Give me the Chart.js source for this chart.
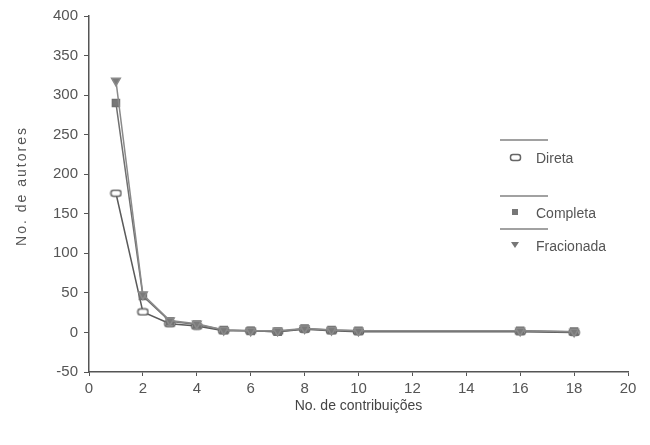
<!DOCTYPE html>
<html>
<head>
<meta charset="utf-8">
<script src="https://cdn.jsdelivr.net/npm/chart.js@4.4.1/dist/chart.umd.min.js"></script>
<style>
  body { margin: 0; background: #fff; }
  #wrap { width: 650px; height: 445px; position: relative; }
</style>
</head>
<body>
<div id="wrap"><canvas id="grafico"></canvas></div>
<script>
// dados
const contribuicoes = [1, 2, 3, 4, 5, 6, 7, 8, 9, 10, 16, 18];
const direta     = [176, 26, 11, 8, 2, 2, 1, 4, 2, 1, 1, 0];
const completa   = [290, 46, 14, 10, 3, 2, 1, 5, 3, 2, 2, 1];
const fracionada = [318, 48, 15, 11, 3, 2, 2, 5, 3, 2, 2, 1];
const nomes = ['Direta', 'Completa', 'Fracionada'];

const cinza = '#707070';
const fonte = '"Liberation Sans", Arial, sans-serif';

// marcador da serie Direta: retangulo arredondado vazado
const marcaDireta = document.createElement('canvas');
marcaDireta.width = 13; marcaDireta.height = 9;
(function () {
    const c = marcaDireta.getContext('2d');
    c.strokeStyle = '#666'; c.lineWidth = 1.5; c.fillStyle = '#fff';
    c.beginPath(); c.roundRect(1.5, 1.5, 10, 6, 2.5); c.fill(); c.stroke();
})();

const pontos = arr => contribuicoes.map((x, i) => ({ x: x, y: arr[i] }));

const legendaPlugin = {
    id: 'legendaManual',
    afterDraw(chart) {
        const ctx = chart.ctx;
        ctx.save();
        // titulo eixo y com espacamento
        ctx.fillStyle = '#555';
        ctx.font = '14px ' + fonte;
        ctx.translate(22, 186);
        ctx.rotate(-Math.PI / 2);
        ctx.letterSpacing = '2px';
        ctx.textAlign = 'center';
        ctx.textBaseline = 'middle';
        ctx.fillText('No. de autores', 0, 0);
        ctx.restore();

        ctx.save();
        ctx.strokeStyle = '#444'; ctx.lineWidth = 1.2;
        const linhas = [140, 196, 229];
        linhas.forEach(y => { ctx.beginPath(); ctx.moveTo(500, y); ctx.lineTo(548, y); ctx.stroke(); });
        ctx.drawImage(marcaDireta, 509, 153);
        ctx.fillStyle = '#777';
        ctx.fillRect(512, 209, 6, 6);
        ctx.beginPath(); ctx.moveTo(511, 242); ctx.lineTo(519, 242); ctx.lineTo(515, 248); ctx.closePath(); ctx.fill();
        ctx.fillStyle = '#555';
        ctx.font = '14px ' + fonte;
        ctx.textBaseline = 'middle';
        ctx.fillText(nomes[0], 536, 159);
        ctx.fillText(nomes[1], 536, 214);
        ctx.fillText(nomes[2], 536, 247);
        ctx.restore();
    }
};

new Chart(document.getElementById('grafico'), {
    type: 'line',
    data: {
        datasets: [
            { label: nomes[2], data: pontos(fracionada), borderColor: '#8a8a8a', backgroundColor: '#7a7a7a', borderWidth: 1.5,
              pointStyle: 'triangle', rotation: 180, pointRadius: 5 },
            { label: nomes[1], data: pontos(completa), borderColor: cinza, backgroundColor: '#777', borderWidth: 1.5,
              pointStyle: 'rect', pointRadius: 5 },
            { label: nomes[0], data: pontos(direta), borderColor: '#5a5a5a', backgroundColor: '#fff', borderWidth: 1.5,
              pointStyle: marcaDireta }
        ]
    },
    options: {
        responsive: true, maintainAspectRatio: false, animation: false,
        layout: { padding: { top: 16, right: 22, bottom: 0, left: 0 } },
        plugins: { legend: { display: false }, tooltip: { enabled: false } },
        scales: {
            x: {
                type: 'linear', min: 0, max: 20,
                afterFit: s => { s.height = 73; },
                ticks: { stepSize: 2, color: '#555', font: { family: fonte, size: 15 }, padding: 4 },
                grid: { drawOnChartArea: false, tickLength: 4, color: '#555' },
                border: { color: '#555', width: 1.5 },
                title: { display: true, text: 'No. de contribuições', color: '#444', font: { family: fonte, size: 14 }, padding: { top: 4, bottom: 30 } }
            },
            y: {
                min: -50, max: 400,
                afterFit: s => { s.width = 89; },
                ticks: { stepSize: 50, color: '#555', font: { family: fonte, size: 15 }, padding: 6 },
                grid: { drawOnChartArea: false, tickLength: 5, color: '#555' },
                border: { color: '#555', width: 1.5 }
            }
        }
    },
    plugins: [legendaPlugin]
});
</script>
</body>
</html>
